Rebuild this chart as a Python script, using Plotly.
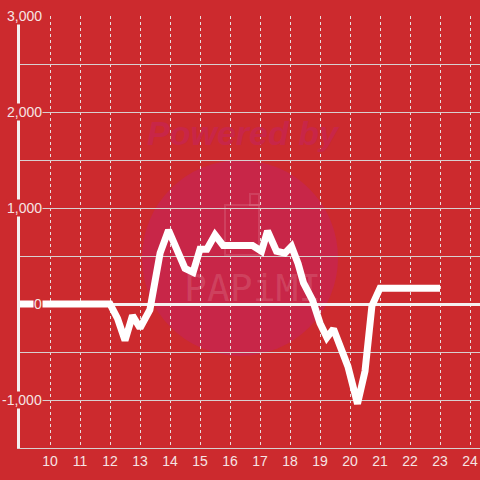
import plotly.graph_objects as go

# data (hours of day, value)
hours = [9, 12, 12.25, 12.5, 12.75, 13, 13.33, 13.5, 13.67, 13.95, 14.25, 14.5, 14.77, 15,
         15.23, 15.5, 15.77, 16.75, 17.05, 17.25, 17.55, 17.83, 18.05, 18.27, 18.45,
         18.75, 19, 19.23, 19.45, 19.75, 19.93, 20.25, 20.5, 20.73, 21, 23]
values = [0, 0, -150, -380, -120, -250, -60, 250, 530, 770, 570, 370, 330, 570,
          570, 720, 610, 610, 550, 760, 550, 530, 600, 420, 220,
          40, -200, -350, -260, -510, -650, -1040, -700, -20, 165, 165]
x_ticks = list(range(10, 25))
y_label_vals = [3000, 2000, 1000, 0, -1000]
y_label_text = ["3,000", "2,000", "1,000", "0", "-1,000"]

BG = "#cc2a2e"
TXT = "#f6e4e4"
WM = "rgb(200,38,72)"

fig = go.Figure()
fig.add_trace(go.Scatter(x=hours, y=values, mode="lines",
                         line=dict(color="white", width=7), hoverinfo="skip"))

annotations = []
for v, t in zip(y_label_vals, y_label_text):
    annotations.append(dict(x=9.77, y=v, xref="x", yref="y", text=t, showarrow=False,
                            xanchor="right", yanchor="middle", bgcolor=BG, borderpad=0,
                            font=dict(family="Liberation Sans, Arial", size=14, color=TXT)))
annotations.append(dict(x=(243 - 20) / 460, y=(448 - 133) / 432, xref="paper", yref="paper",
                        xanchor="center", yanchor="middle",
                        text="<b><i>Powered by</i></b>", showarrow=False,
                        font=dict(family="Liberation Sans, Arial", size=34, color=WM)))
annotations.append(dict(x=(252 - 20) / 460, y=(448 - 288) / 432, xref="paper", yref="paper",
                        xanchor="center", yanchor="middle",
                        text="PAPiMI", showarrow=False,
                        font=dict(family="DejaVu Sans Mono", size=38, color="rgba(255,255,255,0.13)")))

shapes = [
    dict(type="circle", xref="paper", yref="paper", layer="below",
         x0=(142 - 20) / 460, x1=(338 - 20) / 460, y0=(448 - 356) / 432, y1=(448 - 160) / 432,
         fillcolor=WM, line=dict(width=0)),
    dict(type="rect", xref="paper", yref="paper", layer="below",
         x0=(225 - 20) / 460, x1=(259 - 20) / 460, y0=(448 - 255) / 432, y1=(448 - 205) / 432,
         fillcolor="rgba(0,0,0,0)", line=dict(width=2, color="rgba(255,255,255,0.12)")),
    dict(type="rect", xref="paper", yref="paper", layer="below",
         x0=(250 - 20) / 460, x1=(259 - 20) / 460, y0=(448 - 205) / 432, y1=(448 - 194) / 432,
         fillcolor="rgba(0,0,0,0)", line=dict(width=2, color="rgba(255,255,255,0.12)")),
]

fig.update_layout(
    width=480, height=480,
    margin=dict(l=20, r=0, t=16, b=32),
    paper_bgcolor=BG, plot_bgcolor=BG,
    showlegend=False,
    annotations=annotations, shapes=shapes,
    xaxis=dict(range=[9, 24.333], tickvals=x_ticks, ticktext=[str(v) for v in x_ticks],
               showgrid=True, gridcolor="#e8dede", griddash="dot", gridwidth=1,
               zeroline=False, showline=True, linecolor="#d8d0d0", linewidth=1,
               ticks="", tickfont=dict(family="Liberation Sans, Arial", size=14, color=TXT),
               fixedrange=True),
    yaxis=dict(range=[-1500, 3000], dtick=500, tick0=0, showticklabels=False,
               showgrid=True, gridcolor="#d8d0d0", gridwidth=1,
               zeroline=True, zerolinecolor="#f4f0f0", zerolinewidth=3,
               showline=True, linecolor="#f4f0f0", linewidth=3, mirror=False,
               ticks="", fixedrange=True),
)

fig.write_html("out.html", config={"displayModeBar": False},
               post_script="document.body.style.margin='0';document.body.style.background='" + BG + "';")
